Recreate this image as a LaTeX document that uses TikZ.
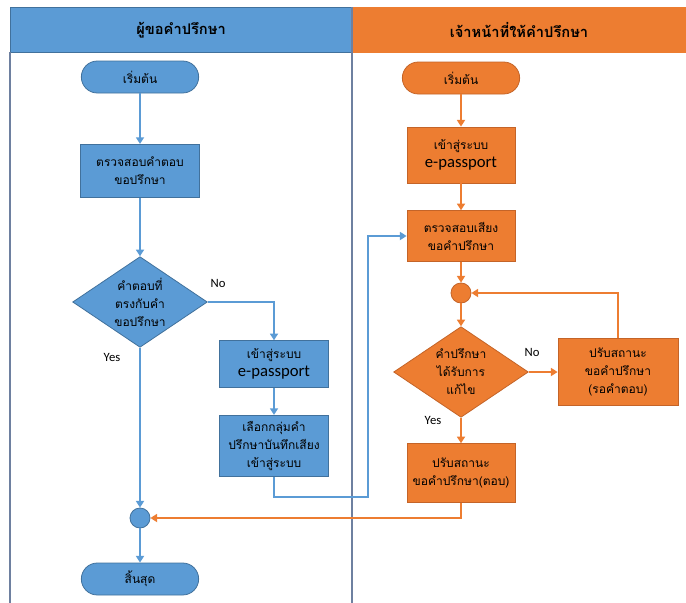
\documentclass[tikz,border=0pt]{standalone}
\usepackage{fontspec}
\setmainfont{Carlito}
\newfontfamily\thaifont[Script=Thai]{Loma}
\usepackage{tikz}
\usetikzlibrary{arrows.meta,arrows}
\usetikzlibrary{positioning,shapes.geometric}

\definecolor{bluefill}{RGB}{91,155,213}
\definecolor{blueedge}{RGB}{65,113,156}
\definecolor{orangefill}{RGB}{237,125,49}
\definecolor{orangeedge}{RGB}{196,100,40}
\definecolor{laneline}{RGB}{110,128,160}

\newcommand{\epassfont}{\normalfont\fontsize{12.5}{13}\selectfont}

\tikzset{
  bbox/.style={draw=blueedge, fill=bluefill, line width=0.6pt, align=center, inner sep=1pt, font=\thaifont\fontsize{9}{13.5}\selectfont},
  obox/.style={draw=orangeedge, fill=orangefill, line width=0.6pt, align=center, inner sep=1pt, font=\thaifont\fontsize{9}{13.5}\selectfont},
  term/.style={rounded corners=12pt, minimum width=88pt, minimum height=24pt},
  dec/.style={diamond, shape aspect=1.5, inner sep=0pt, minimum width=101pt, minimum height=68pt},
  joint/.style={circle, inner sep=0pt, minimum size=15pt},
  bline/.style={draw=bluefill, line width=1.3pt, -{Triangle[width=6pt,length=5pt]}},
  oline/.style={draw=orangefill, line width=1.3pt, -{Triangle[width=6pt,length=5pt]}},
  lbl/.style={font=\fontsize{9.5}{11}\selectfont}
}

\begin{document}
\begin{tikzpicture}[x=0.75pt,y=0.75pt,yscale=-1]
  \useasboundingbox (0,0) rectangle (686,603);

  % lanes
  \draw [draw=blueedge, fill=bluefill] (10,7) rectangle (352,52);
  \draw [draw=orangefill, fill=orangefill] (352,7) rectangle (686,52);
  \draw [laneline, line width=1pt] (10,52) -- (10,603);
  \draw [laneline, line width=1pt] (352,7) -- (352,603);
  \node (hdrL) at (181,30) {\thaifont\bfseries\fontsize{11}{13}\selectfont ผู้ขอคำปรึกษา};
  \node (hdrR) at (519,30) {\thaifont\bfseries\fontsize{11}{13}\selectfont เจ้าหน้าที่ให้คำปรึกษา};

  % ผู้ขอคำปรึกษา
  \node [bbox, term] (startL) at (140,77) {เริ่มต้น};
  \node [bbox, minimum width=89pt, minimum height=40pt] (chkL) at (140,171) {ตรวจสอบคำตอบ\\ขอปรึกษา};
  \node [bbox, dec] (decL) at (140,302) {คำตอบที่\\ตรงกับคำ\\ขอปรึกษา};
  \node [bbox, minimum width=82pt, minimum height=35pt] (loginL) at (274,364) {เข้าสู่ระบบ\\{\epassfont e-passport}};
  \node [bbox, minimum width=82pt, minimum height=46pt] (recL) at (274,446) {เลือกกลุ่มคำ\\ปรึกษาบันทึกเสียง\\เข้าสู่ระบบ};
  \node [bbox, joint] (joinL) at (140,518) {};
  \node [bbox, term] (endL) at (140,579) {สิ้นสุด};
  \coordinate (bendA) at (368,497);

  % เจ้าหน้าที่ให้คำปรึกษา
  \node [obox, term] (startR) at (461,78) {เริ่มต้น};
  \node [obox, minimum width=81pt, minimum height=42pt] (loginR) at (461,155) {เข้าสู่ระบบ\\{\epassfont e-passport}};
  \node [obox, minimum width=81pt, minimum height=38pt] (chkR) at (461,236) {ตรวจสอบเสียง\\ขอคำปรึกษา};
  \node [obox, joint] (joinR) at (461,293) {};
  \node [obox, dec] (decR) at (461,372) {คำปรึกษา\\ได้รับการ\\แก้ไข};
  \node [obox, minimum width=90pt, minimum height=50pt] (waitR) at (618,372) {ปรับสถานะ\\ขอคำปรึกษา\\(รอคำตอบ)};
  \node [obox, minimum width=81pt, minimum height=44pt] (doneR) at (461,473) {ปรับสถานะ\\ขอคำปรึกษา(ตอบ)};

  % connectors
  \draw [bline] (startL) -- (chkL);
  \draw [bline] (chkL) -- (decL);
  \draw [bline] (decL.east) -| (loginL.north);
  \draw [bline] (loginL) -- (recL);
  \draw [bline] (recL.south) |- (bendA) |- (chkR.west);
  \draw [bline] (decL.south) -- (joinL);
  \draw [bline] (joinL) -- (endL);

  \draw [oline] (startR) -- (loginR);
  \draw [oline] (loginR) -- (chkR);
  \draw [oline] (chkR) -- (joinR);
  \draw [oline] (joinR) -- (decR);
  \draw [oline] (decR.east) -- (waitR.west);
  \draw [oline] (waitR.north) |- (joinR.east);
  \draw [oline] (decR.south) -- (doneR);
  \draw [oline] (doneR.south) |- (joinL.east);

  \node [lbl] (noL) at (218,283) {No};
  \node [lbl] (yesL) at (112,357) {Yes};
  \node [lbl] (noR) at (532,352) {No};
  \node [lbl] (yesR) at (433,420) {Yes};

\end{tikzpicture}
\end{document}
